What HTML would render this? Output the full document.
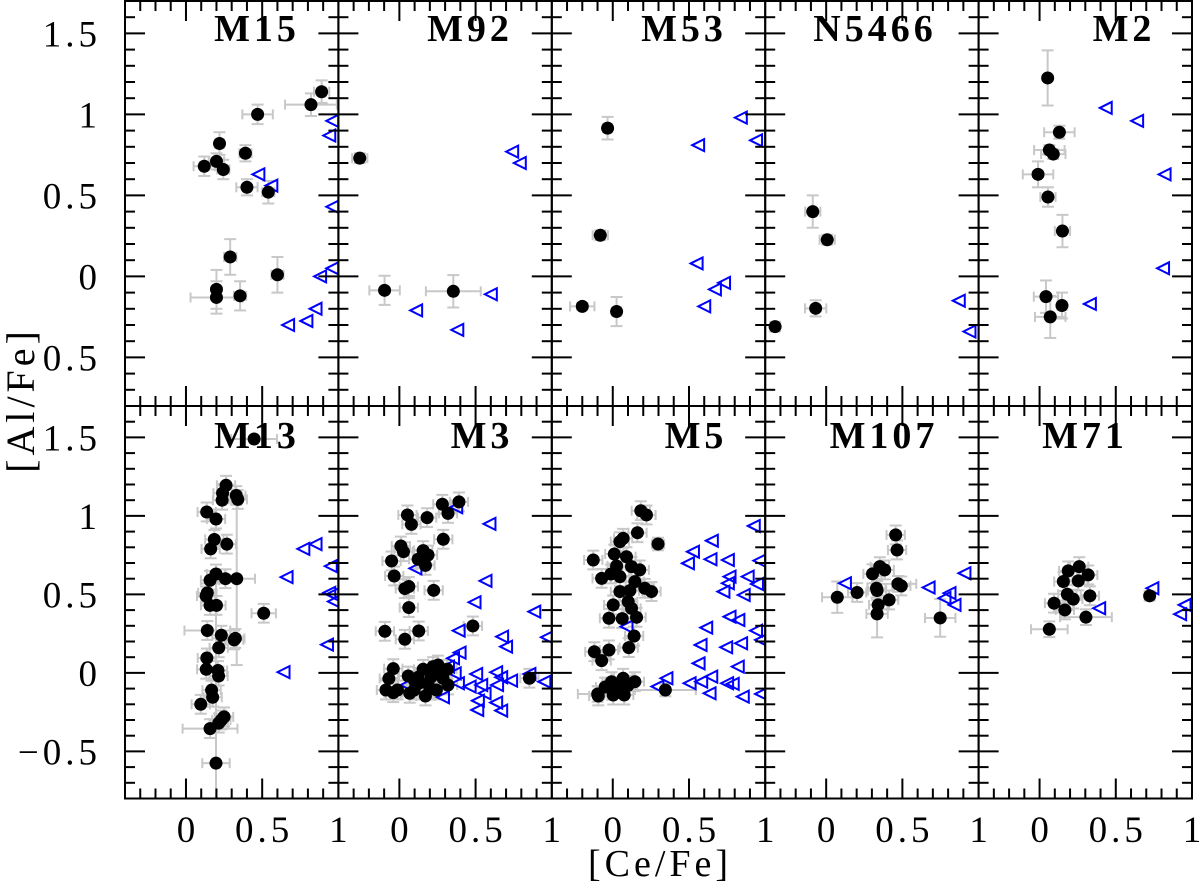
<!DOCTYPE html>
<html><head><meta charset="utf-8"><style>
html,body{margin:0;padding:0;background:#fff;overflow:hidden;width:1200px;height:895px;}
svg{display:block;font-family:"Liberation Serif","DejaVu Serif",serif;}
</style></head><body>
<svg id="chart" width="1200" height="895" viewBox="0 0 1200 895" xmlns="http://www.w3.org/2000/svg">
<defs id="defs"></defs>
<g id="marks"></g>
<g id="frames"></g>
<text transform="translate(34,400) rotate(-90)" text-anchor="middle" font-size="40" letter-spacing="4">[Al/Fe]</text>
<text x="660" y="876" text-anchor="middle" font-size="38" letter-spacing="4">[Ce/Fe]</text>
</svg>
<script>
// ---- data (values in [Ce/Fe], [Al/Fe]); dots: [x,y,xerr,yerr] ----
const panelNames = ["M15","M92","M53","N5466","M2","M13","M3","M5","M107","M71"];
const titleCenters = [257,470,684,875,1124,257,482,696,884,1085];
const yTickLabelsTop = ["1.5","1","0.5","0","0.5"];
const yTickLabelsBottom = ["1.5","1","0.5","0","\u22120.5"];
const yTickValues = [1.5,1,0.5,0,-0.5];
const xTickValues = [0,0.5,1];
const xTickLabels = ["0","0.5","1"];

const dotsM15 = [[0.12,0.68,0.07,0.06],[0.20,0.71,0.05,0.05],[0.22,0.82,0.03,0.07],[0.245,0.66,0.04,0.06],[0.39,0.76,0.04,0.05],[0.40,0.55,0.07,0.05],[0.54,0.52,0.04,0.07],[0.47,1.0,0.1,0.06],[0.82,1.06,0.17,0.07],[0.89,1.14,0.05,0.07],[0.29,0.12,0.04,0.11],[0.60,0.01,0.04,0.11],[0.20,-0.08,0.02,0.12],[0.20,-0.13,0.17,0.10],[0.355,-0.12,0.04,0.09]];
const trisM15 = [[0.475,0.63],[0.56,0.56],[0.96,0.96],[0.94,0.87],[0.96,0.43],[0.88,0.0],[0.96,0.05],[0.85,-0.2],[0.79,-0.275],[0.67,-0.30]];
const dotsM92 = [[-0.26,0.73,0.05,0.03],[-0.097,-0.086,0.1,0.09],[0.354,-0.092,0.18,0.1]];
const trisM92 = [[0.74,0.77],[0.79,0.70],[0.60,-0.11],[0.11,-0.21],[0.38,-0.33]];
const dotsM53 = [[-0.034,0.915,0.03,0.07],[-0.082,0.254,0.05,0.03],[-0.2,-0.185,0.08,0.02],[0.025,-0.217,0.03,0.09]];
const trisM53 = [[0.84,0.98],[0.94,0.84],[0.56,0.81],[0.55,0.08],[0.73,-0.04],[0.67,-0.08],[0.60,-0.185]];
const dotsN5466 = [[-0.088,0.40,0.05,0.1],[0.007,0.226,0.05,0.03],[-0.069,-0.197,0.07,0.05],[-0.335,-0.31,0.02,0.03]];
const trisN5466 = [[0.87,-0.15],[0.94,-0.34]];
const dotsM2 = [[0.053,1.225,0,0.17],[0.13,0.89,0.1,0.04],[0.064,0.78,0.1,0.03],[0.09,0.755,0.08,0.03],[-0.01,0.63,0.1,0.08],[0.055,0.49,0.05,0.06],[0.15,0.28,0.05,0.1],[0.042,-0.125,0.08,0.1],[0.147,-0.18,0.03,0.08],[0.07,-0.25,0.1,0.13]];
const trisM2 = [[0.434,1.04],[0.64,0.96],[0.82,0.63],[0.81,0.05],[0.33,-0.17]];
const dotsM13 = [[0.263,1.195],[0.24,1.145],[0.237,1.10],[0.33,1.13],[0.34,1.105],[0.136,1.025],[0.197,0.98],[0.186,0.85],[0.162,0.79],[0.268,0.82],[0.197,0.63],[0.158,0.59],[0.259,0.60],[0.333,0.60,0.12,0.55],[0.14,0.51],[0.132,0.49],[0.158,0.43],[0.20,0.43],[0.51,0.38,0.08,0.06],[0.14,0.27,0.15,0.06],[0.232,0.24],[0.316,0.21],[0.324,0.22],[0.215,0.16],[0.137,0.095],[0.133,0.023],[0.21,0.015],[0.214,-0.02],[0.168,-0.11],[0.175,-0.155],[0.097,-0.20],[0.25,-0.28],[0.232,-0.30],[0.215,-0.32],[0.158,-0.355,0.18,0.06],[0.197,-0.575,0.09,1.2],[0.447,1.49,0.15,0]];
const trisM13 = [[0.66,0.61],[0.64,0.005],[0.77,0.79],[0.85,0.82],[0.95,0.68],[0.94,0.51],[0.96,0.50],[0.97,0.455],[0.925,0.18]];
const dotsM3 = [[0.053,1.006],[0.079,0.946],[0.182,0.989],[0.282,1.074],[0.319,1.016],[0.391,1.089],[0.288,0.851],[0.01,0.808],[0.027,0.772],[0.156,0.779],[0.188,0.751],[0.123,0.724],[0.171,0.685],[-0.051,0.713],[-0.034,0.617],[0.036,0.537],[0.062,0.55],[0.225,0.526],[0.062,0.416],[-0.095,0.265],[0.036,0.214],[0.127,0.267],[0.482,0.299],[-0.04,0.027],[-0.069,-0.036],[-0.088,-0.109],[-0.04,-0.126],[-0.012,-0.109],[0.058,-0.02],[0.068,-0.13],[0.123,-0.028],[0.156,0.023],[0.171,-0.147],[0.097,-0.109],[0.221,0.04],[0.254,0.05],[0.315,0.023],[0.188,-0.066],[0.243,-0.109],[0.286,-0.034],[0.319,-0.077],[0.127,-0.066],[0.21,-0.024],[0.853,-0.034],[0.1,-0.05],[0.2,-0.1],[0.27,0.0]];
const trisM3 = [[0.373,1.055],[0.591,0.949],[0.105,0.666],[0.565,0.586],[0.493,0.45],[0.885,0.39],[0.389,0.269],[0.968,0.227],[0.674,0.231],[0.70,0.167],[0.395,0.129],[0.352,0.093],[0.319,0.04],[0.363,-0.003],[0.504,-0.007],[0.635,0.004],[0.668,-0.028],[0.733,-0.049],[0.853,-0.007],[0.951,-0.056],[0.384,-0.066],[0.461,-0.087],[0.537,-0.077],[0.559,-0.13],[0.641,-0.077],[0.515,-0.177],[0.635,-0.189],[0.668,-0.24],[0.511,-0.236],[0.286,-0.155],[0.047,-0.077]];
const dotsM5 = [[0.184,1.033],[0.221,1.006],[0.162,0.893],[0.297,0.821,0.04,0.04],[0.047,0.836],[0.068,0.857],[0.01,0.757],[-0.128,0.719],[0.09,0.74],[0.025,0.681],[0.123,0.677],[0.177,0.656],[-0.073,0.602],[-0.012,0.63],[0.047,0.613],[0.145,0.581],[0.047,0.518],[0.112,0.524],[0.21,0.539],[0.254,0.518],[0.101,0.454],[0.003,0.433],[0.123,0.411],[-0.025,0.348],[0.062,0.346],[0.156,0.354],[0.14,0.235],[0.105,0.161],[-0.121,0.135],[-0.025,0.146],[-0.073,0.078],[-0.008,-0.056],[0.068,-0.034],[0.145,-0.056],[0.025,-0.087],[-0.099,-0.134,0.13,0.05],[0.003,-0.141],[0.075,-0.141],[0.345,-0.109,0.2,0.04],[-0.095,-0.147],[0.05,-0.1],[0.1,-0.08],[-0.05,-0.09]];
const trisM5 = [[0.925,0.936],[0.65,0.842],[0.526,0.772],[0.493,0.698],[0.641,0.724],[0.755,0.719],[0.962,0.715],[0.766,0.613],[0.885,0.613],[0.755,0.571],[0.726,0.518],[0.859,0.496],[0.946,0.566],[0.766,0.358],[0.824,0.337],[0.613,0.288],[0.94,0.269],[0.973,0.21],[0.576,0.178],[0.744,0.163],[0.842,0.189],[0.563,0.061],[0.82,0.04],[0.352,-0.034],[0.293,-0.087],[0.504,-0.066],[0.58,-0.056],[0.646,-0.024],[0.75,-0.066],[0.787,-0.07],[0.635,-0.13],[0.853,-0.151],[0.973,-0.134],[0.09,0.295]];
const dotsM107 = [[0.456,0.879],[0.465,0.783],[0.352,0.677],[0.384,0.656],[0.304,0.631],[0.33,0.539],[0.334,0.525],[0.471,0.567,0.12,0.05],[0.493,0.554],[0.413,0.465],[0.341,0.433],[0.334,0.376,0.07,0.15],[0.203,0.512],[0.073,0.482,0.1,0.1],[0.748,0.35,0.1,0.12]];
const trisM107 = [[0.123,0.571],[0.672,0.544],[0.907,0.635],[0.809,0.508],[0.776,0.476],[0.842,0.433]];
const dotsM71 = [[0.26,0.677],[0.188,0.65],[0.319,0.624],[0.156,0.582],[0.254,0.586],[0.182,0.501],[0.221,0.47],[0.33,0.491],[0.095,0.444],[0.166,0.401],[0.304,0.355,0.17,0.05],[0.064,0.278,0.12,0.05],[0.722,0.491,0.03,0.03]];
const trisM71 = [[0.74,0.539],[0.391,0.412],[0.951,0.433],[0.922,0.374]];

const panelDots = [dotsM15,dotsM92,dotsM53,dotsN5466,dotsM2,dotsM13,dotsM3,dotsM5,dotsM107,dotsM71];
const panelTris = [trisM15,trisM92,trisM53,trisN5466,trisM2,trisM13,trisM3,trisM5,trisM107,trisM71];

// ---- layout ----
const NS = "http://www.w3.org/2000/svg";
const L0 = 125, PW = 213.4, XMIN = -0.4, XMAX = 1.0, YMIN = -0.8, YMAX = 1.7;
const rowTop = [1, 406], rowH = [405, 392.5];
const DEFX = 0.06, DEFY = 0.06;
function mk(tag, attrs, parent){ const e=document.createElementNS(NS,tag); for(const k in attrs) e.setAttribute(k,attrs[k]); parent.appendChild(e); return e; }
function xScale(col, v){ return L0 + col*PW + (v - XMIN)/(XMAX - XMIN)*PW; }
function yScale(row, v){ return rowTop[row] + (YMAX - v)/(YMAX - YMIN)*rowH[row]; }

const defs = document.getElementById('defs');
const marks = document.getElementById('marks');
const frames = document.getElementById('frames');
const svg = document.getElementById('chart');

for (let p = 0; p < 10; p++) {
  const row = Math.floor(p/5), col = p%5;
  const x0 = L0 + col*PW, y0 = rowTop[row], w = PW, h = rowH[row];
  const cp = mk('clipPath', {id:'clip'+p}, defs);
  mk('rect', {x:x0, y:y0, width:w, height:h}, cp);
  const g = mk('g', {'clip-path':'url(#clip'+p+')'}, marks);
  
  
  const eg = mk('g', {stroke:'#c8c8c8','stroke-width':'2',fill:'none'}, g);
  
  
  panelDots[p].forEach(d => {
    const ex = d.length > 2 ? d[2] : DEFX, ey = d.length > 3 ? d[3] : DEFY;
    const cx = xScale(col, d[0]), cy = yScale(row, d[1]);
    if (ex > 0) {
      const a = xScale(col, d[0]-ex), b = xScale(col, d[0]+ex);
      mk('line', {x1:a, y1:cy, x2:b, y2:cy}, eg);
      mk('line', {x1:a, y1:cy-5, x2:a, y2:cy+5}, eg);
      mk('line', {x1:b, y1:cy-5, x2:b, y2:cy+5}, eg);
    }
    if (ey > 0) {
      const a = yScale(row, d[1]+ey), b = yScale(row, Math.max(d[1]-ey, YMIN));
      mk('line', {x1:cx, y1:a, x2:cx, y2:b}, eg);
      mk('line', {x1:cx-6, y1:a, x2:cx+6, y2:a}, eg);
      mk('line', {x1:cx-6, y1:b, x2:cx+6, y2:b}, eg);
    }
  });
  panelTris[p].forEach(t => {
    const cx = xScale(col, t[0]), cy = yScale(row, t[1]);
    const tri = mk('polygon', {points:(cx-6)+','+cy+' '+(cx+6)+','+(cy-6)+' '+(cx+6)+','+(cy+6), fill:'none', stroke:'#0000ff', 'stroke-width':'2'}, g);
    
    
  });
  panelDots[p].forEach(d => {
    const c = mk('circle', {cx:xScale(col, d[0]), cy:yScale(row, d[1]), r:6.5, fill:'#000'}, g);
    
    
  });

  const fg = mk('g', {stroke:'#000','stroke-width':'2',fill:'none'}, frames);
  
  
  mk('rect', {x:x0, y:y0, width:w, height:h}, fg);
  for (let k = -8; k <= 17; k++) {
    const v = k/10, yy = yScale(row, v), len = (k % 5 === 0) ? 20 : 10;
    mk('line', {x1:x0, y1:yy, x2:x0+len, y2:yy}, fg);
    mk('line', {x1:x0+w, y1:yy, x2:x0+w-len, y2:yy}, fg);
  }
  for (let k = -3; k <= 9; k++) {
    const v = k/10, xx = xScale(col, v), len = (k % 5 === 0) ? 20 : 10;
    mk('line', {x1:xx, y1:y0+h, x2:xx, y2:y0+h-len}, fg);
    mk('line', {x1:xx, y1:y0, x2:xx, y2:y0+len}, fg);
  }
  const tt = mk('text', {x:titleCenters[p], y: row===0 ? 41 : 448, 'text-anchor':'middle', 'font-size':'38', 'font-weight':'bold', 'letter-spacing':'4'}, svg);
  tt.textContent = panelNames[p];
  
  
  if (row === 1) {
    xTickValues.forEach((v, i) => {
      const lt = mk('text', {x:xScale(col, v)+2, y:842, 'text-anchor':'middle', 'font-size':'37', 'letter-spacing':'4'}, svg);
      lt.textContent = xTickLabels[i];
      
      
    });
  }
}
for (let row = 0; row < 2; row++) {
  const labs = row === 0 ? yTickLabelsTop : yTickLabelsBottom;
  yTickValues.forEach((v, i) => {
    const lt = mk('text', {x:101, y:yScale(row, v)+13, 'text-anchor':'end', 'font-size':'37', 'letter-spacing':'4'}, svg);
    lt.textContent = labs[i];
    
    
  });
}
</script>
</body></html>
